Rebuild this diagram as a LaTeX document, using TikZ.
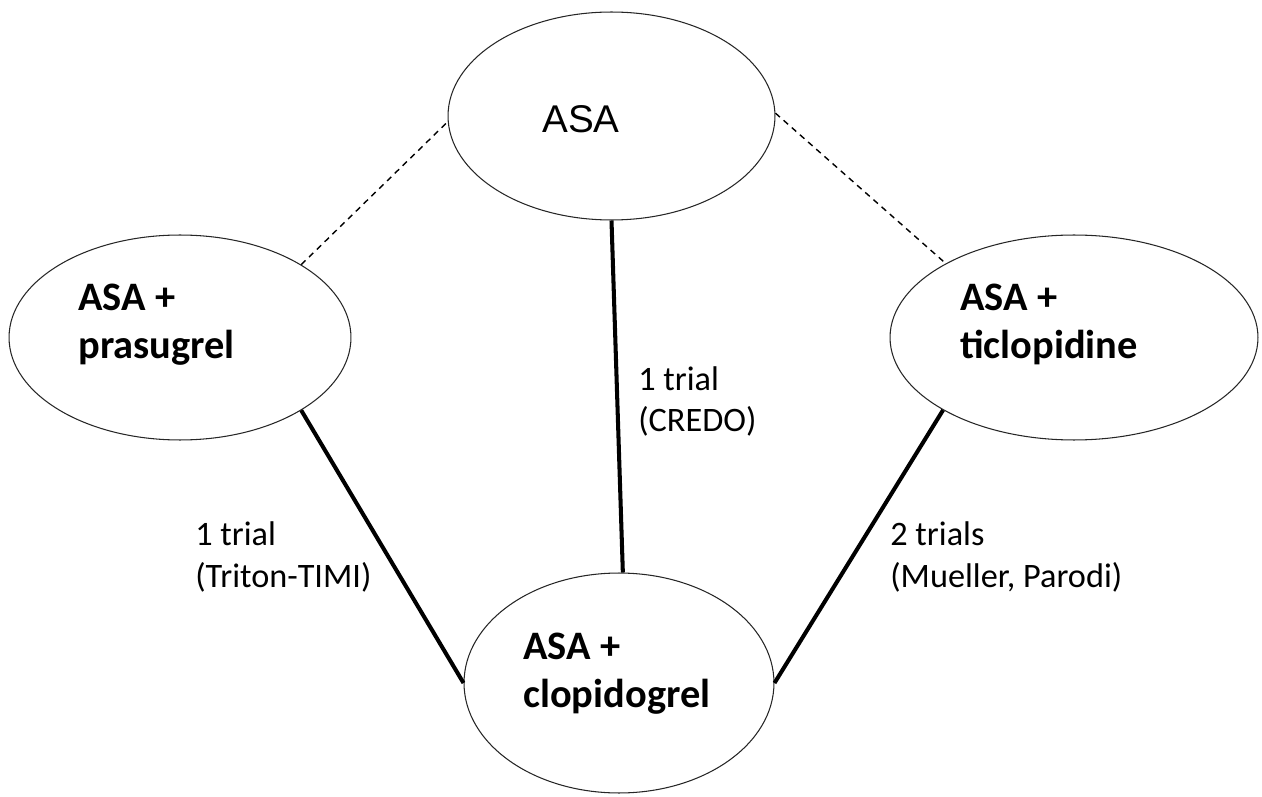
\documentclass[tikz,border=0pt]{standalone}
\usepackage{fontspec}
\setmainfont{Carlito}
\newfontfamily\arialfont{Liberation Sans}
\usetikzlibrary{shapes.geometric}

\tikzset{
  drug/.style={ellipse, draw=black!85, line width=0.6pt, inner sep=0pt},
  drugtext/.style={anchor=base west, align=left, inner sep=0pt,
    font=\fontsize{23}{27.3}\selectfont\bfseries},
  trialtext/.style={anchor=base west, align=left, inner sep=0pt,
    font=\fontsize{19.5}{23.8}\selectfont},
  direct/.style={line width=2.3pt},
  indirect/.style={line width=0.8pt, dash pattern=on 3.4pt off 2.8pt},
}

\begin{document}
\begin{tikzpicture}[x=0.02cm, y=-0.02cm]
    \useasboundingbox (0,0) rectangle (1262,797);

    % treatments
    \node [drug, minimum width=6.54cm, minimum height=4.16cm] (asa) at (611.5,116) {};
    \node [drug, minimum width=6.84cm, minimum height=4.10cm] (pras) at (180,337.5) {};
    \node [drug, minimum width=7.36cm, minimum height=4.10cm] (ticl) at (1074,337.5) {};
    \node [drug, minimum width=6.20cm, minimum height=4.40cm] (clop) at (619,683) {};

    % (base = last line)
    \node [anchor=base west, inner sep=0pt, font=\arialfont\fontsize{22}{26}\selectfont] (asatxt) at (542,133) {ASA};
    \node [drugtext] (prastxt) at (78,358) {ASA +\\prasugrel};
    \node [drugtext] (ticltxt) at (960,358) {ASA +\\ticlopidine};
    \node [drugtext] (cloptxt) at (523,707) {ASA +\\clopidogrel};

    % comparisons
    \draw [indirect] (pras.31.4) -- (asa.182.4);
    \draw [indirect] (asa.1) -- (ticl.150.5);
    \draw [direct] (asa.270) -- (clop.88.4);
    \draw [direct] (pras.-31.4) -- (clop.180.7);
    \draw [direct] (ticl.209.8) -- (clop.0);

    \node [trialtext] (credo) at (638,432) {1 trial\\(CREDO)};
    \node [trialtext] (triton) at (195,587) {1 trial\\(Triton-TIMI)};
    \node [trialtext] (mueller) at (890,587) {2 trials\\(Mueller, Parodi)};
\end{tikzpicture}
\end{document}
